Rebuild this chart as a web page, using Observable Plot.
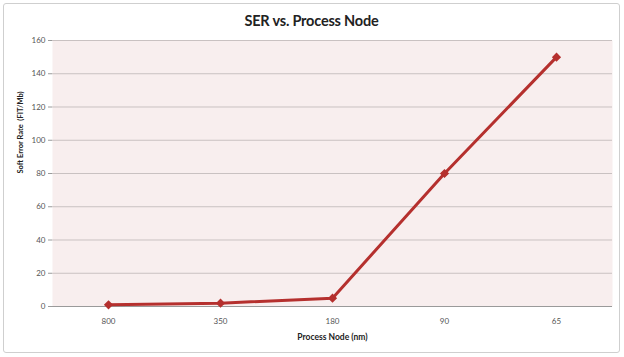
<!DOCTYPE html>
<html><head><meta charset="utf-8">
<script src="https://cdn.jsdelivr.net/npm/d3@7"></script>
<script src="https://cdn.jsdelivr.net/npm/@observablehq/plot@0.6"></script>
<style>
body{margin:0;background:#fff;font-family:Lato,"Open Sans",sans-serif;}
#frame{position:absolute;left:3px;top:3px;width:615px;height:348px;border:1px solid #cfcfcf;border-radius:3px;background:#fff;overflow:hidden;}
#title{height:30px;line-height:34px;text-align:center;font-weight:bold;font-size:14.5px;color:#222;letter-spacing:-0.2px;}
</style></head>
<body>
<div id="frame"><div id="title">SER vs. Process Node</div><div id="chart"></div></div>
<script>
const nodes = ["800", "350", "180", "90", "65"];
const ser = [1, 2, 5, 80, 150];
const yTicks = [0, 20, 40, 60, 80, 100, 120, 140, 160];

const data = nodes.map((n, i) => ({node: n, ser: ser[i]}));
const lineColor = "#b5302e";

const chart = Plot.plot({
  width: 615,
  height: 318,
  marginTop: 6,
  marginLeft: 48,
  marginRight: 7,
  marginBottom: 46,
  style: {fontFamily: "Lato, 'Open Sans', sans-serif", fontSize: "8px", color: "#444", background: "transparent"},
  x: {type: "point", domain: nodes, padding: 0.5, label: null},
  y: {domain: [0, 160], label: null},
  marks: [
    Plot.frame({fill: "#f8eeee", stroke: null}),
    Plot.ruleY(yTicks, {stroke: "#c9c1c1", strokeWidth: 1}),
    Plot.ruleX([0], {frameAnchor: "left", stroke: "#9a9a9a"}),
    Plot.axisY({ticks: yTicks, tickSize: 4, tickPadding: 3, stroke: "#9a9a9a", fill: "#555", label: null}),
    Plot.axisX({tickSize: 0, tickPadding: 12, fill: "#555", label: null}),
    Plot.ruleY([0], {stroke: "#9a9a9a"}),
    Plot.lineY(data, {x: "node", y: "ser", stroke: lineColor, strokeWidth: 3}),
    Plot.dot(data, {x: "node", y: "ser", symbol: "diamond2", r: 3.2, fill: lineColor, stroke: lineColor}),
    Plot.text(["Process Node (nm)"], {frameAnchor: "bottom", dy: 33, fontWeight: "bold", fontSize: 8.5, fill: "#222"}),
    Plot.text(["Soft Error Rate  (FIT/Mb)"], {frameAnchor: "left", dx: -32, rotate: -90, fontWeight: "bold", fontSize: 7.5, fill: "#222"})
  ]
});
document.getElementById("chart").append(chart);
</script>
</body></html>
